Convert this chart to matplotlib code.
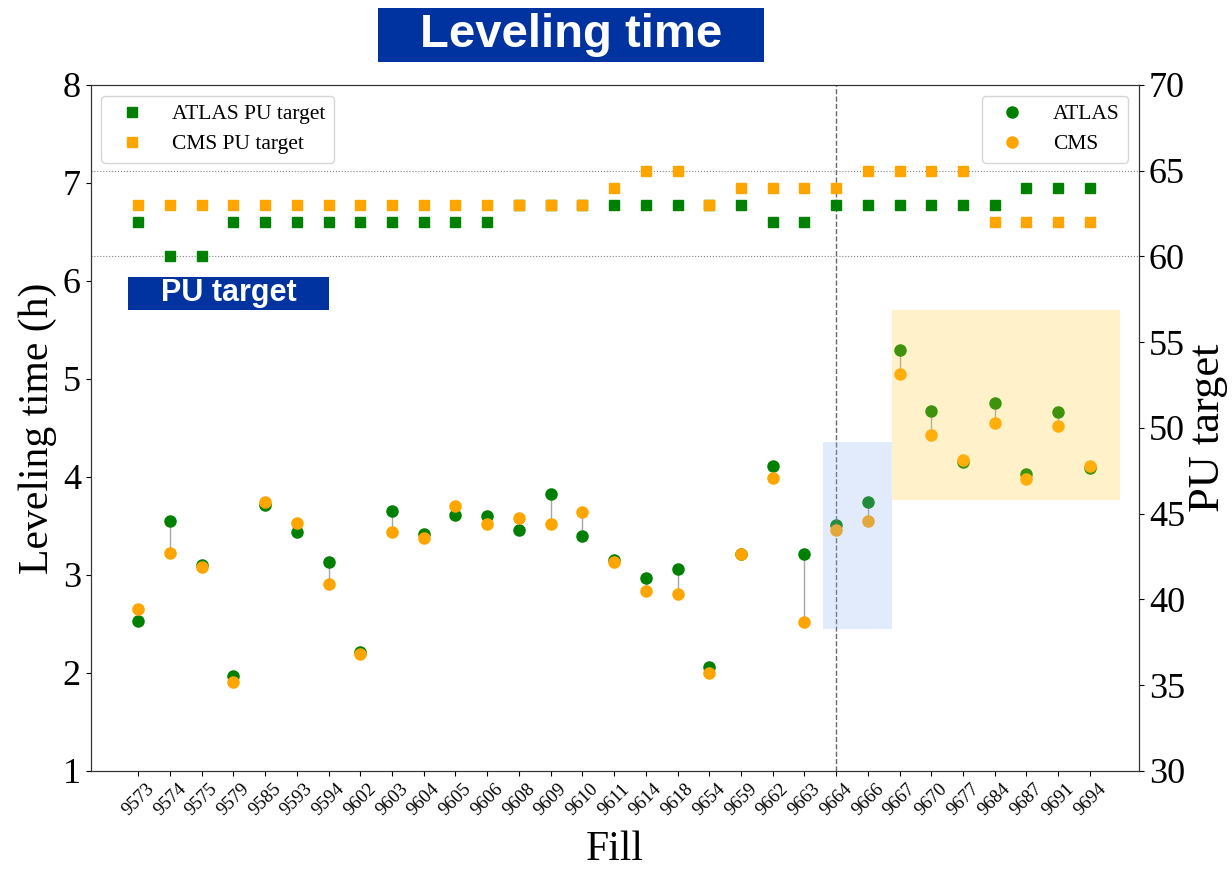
import numpy as np
import matplotlib.pyplot as plt
from matplotlib.patches import Rectangle

fills = ['9573', '9574', '9575', '9579', '9585', '9593', '9594', '9602', '9603', '9604',
         '9605', '9606', '9608', '9609', '9610', '9611', '9614', '9618', '9654', '9659',
         '9662', '9663', '9664', '9666', '9667', '9670', '9677', '9684', '9687', '9691', '9694']

# leveling time (h)
atlas_time = [2.53, 3.55, 3.10, 1.97, 3.71, 3.44, 3.13, 2.21, 3.65, 3.42,
              3.61, 3.60, 3.46, 3.83, 3.40, 3.15, 2.97, 3.06, 2.06, 3.21,
              4.11, 3.21, 3.51, 3.74, 5.30, 4.67, 4.15, 4.75, 4.03, 4.66, 4.09]
cms_time = [2.65, 3.22, 3.08, 1.91, 3.74, 3.53, 2.91, 2.19, 3.44, 3.38,
            3.70, 3.52, 3.58, 3.52, 3.64, 3.13, 2.84, 2.81, 2.00, 3.21,
            3.99, 2.52, 3.46, 3.55, 5.05, 4.43, 4.17, 4.55, 3.98, 4.52, 4.11]

# pile-up targets
atlas_pu = [62, 60, 60, 62, 62, 62, 62, 62, 62, 62,
            62, 62, 63, 63, 63, 63, 63, 63, 63, 63,
            62, 62, 63, 63, 63, 63, 63, 63, 64, 64, 64]
cms_pu = [63, 63, 63, 63, 63, 63, 63, 63, 63, 63,
          63, 63, 63, 63, 63, 64, 65, 65, 63, 64,
          64, 64, 64, 65, 65, 65, 65, 62, 62, 62, 62]

serif = 'Liberation Serif'
x = np.arange(len(fills))

fig = plt.figure(figsize=(12.32, 8.69), dpi=100)
ax = fig.add_axes([0.0736, 0.1128, 0.851, 0.7894])
ax2 = ax.twinx()

# leveling times
ax.vlines(x, atlas_time, cms_time, color='gray', lw=1, alpha=0.7, zorder=1)
ax.plot(x, atlas_time, 'o', color='green', ms=8, label='ATLAS', zorder=2)
ax.plot(x, cms_time, 'o', color='orange', ms=8, label='CMS', zorder=3)
ax.axvline(22, color='dimgray', ls='--', lw=1)

# highlighted regions
ax.add_patch(Rectangle((21.6, 2.45), 2.15, 1.91, color=(0.55, 0.7, 0.95), alpha=0.25, lw=0, zorder=4))
ax.add_patch(Rectangle((23.75, 3.77), 7.2, 1.93, color=(1.0, 0.8, 0.2), alpha=0.25, lw=0, zorder=4))

ax.set_xlim(-1.5, 31.55)
ax.set_ylim(1, 8)
ax.set_xticks(x)
ax.set_xticklabels(fills, rotation=45, fontsize=13.5, family=serif)
ax.set_yticks(range(1, 9))
ax.set_yticklabels([str(v) for v in range(1, 9)], fontsize=26, family=serif)
ax.set_xlabel('Fill', fontsize=30, family=serif, labelpad=8)
ax.set_ylabel('Leveling time (h)', fontsize=30, family=serif, labelpad=4)
leg_kw = dict(prop={'family': serif, 'size': 15.5}, handletextpad=0.9,
              borderpad=0.4, labelspacing=0.45)
ax.legend(loc='upper right', **leg_kw)

# PU targets
ax2.axhline(60, color='gray', ls=':', lw=0.8)
ax2.axhline(65, color='gray', ls=':', lw=0.8)
ax2.plot(x, atlas_pu, 's', color='green', ms=7, label='ATLAS PU target')
ax2.plot(x, cms_pu, 's', color='orange', ms=7, label='CMS PU target')
ax2.set_ylim(30, 70)
ax2.set_yticks(range(30, 71, 5))
ax2.set_yticklabels([str(v) for v in range(30, 71, 5)], fontsize=26, family=serif)
ax2.set_ylabel('PU target', fontsize=32, family=serif, labelpad=2)
ax2.legend(loc='upper left', **leg_kw)

for a in (ax, ax2):
    for s in a.spines.values():
        s.set_color('#333333')

# slide banners
fig.patches.append(Rectangle((0.3068, 0.9287), 0.3133, 0.0621, transform=fig.transFigure,
                             fc='#0033a0', ec='none'))
fig.text(0.4635, 0.9597, 'Leveling time', fontsize=34, fontweight='bold', color='white',
         family='Liberation Sans', ha='center', va='center')
fig.patches.append(Rectangle((0.1039, 0.6433), 0.1631, 0.0379, transform=fig.transFigure,
                             fc='#0033a0', ec='none'))
fig.text(0.1855, 0.6623, 'PU target', fontsize=22, fontweight='bold', color='white',
         family='Liberation Sans', ha='center', va='center')

fig.savefig('out.png', dpi=100)
